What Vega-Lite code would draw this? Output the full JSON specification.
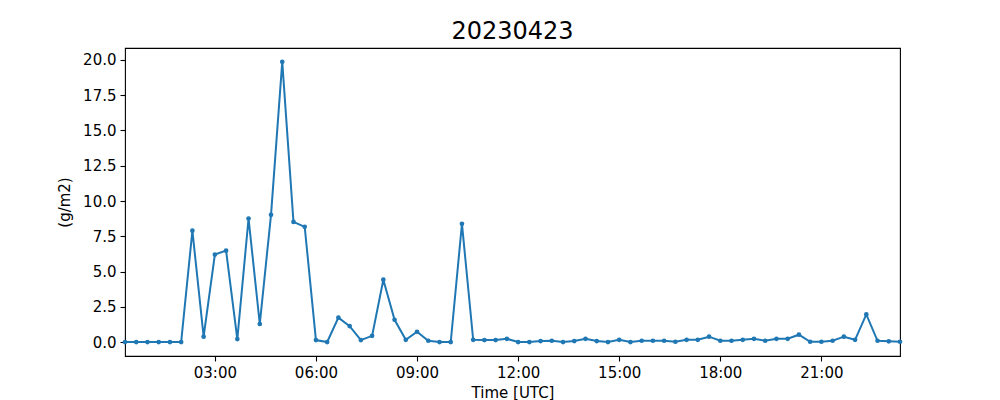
{
  "$schema": "https://vega.github.io/schema/vega-lite/v6.json",
  "autosize": {"type": "none"},
  "width": 775,
  "height": 308,
  "padding": {"left": 125, "top": 48, "right": 100, "bottom": 44},
  "background": "white",
  "title": {"text": "20230423", "fontSize": 24, "font": "DejaVu Sans", "fontWeight": "normal", "color": "black", "offset": 4},
  "config": {
    "view": {"stroke": "black", "strokeWidth": 1.1},
    "axis": {"labelFont": "DejaVu Sans", "titleFont": "DejaVu Sans", "labelFontSize": 15, "titleFontSize": 15, "titleFontWeight": "normal", "labelColor": "black", "titleColor": "black", "tickColor": "black", "domain": false, "grid": false, "tickSize": 5, "tickWidth": 1.1, "labelPadding": 4}
  },
  "data": {"values": [
    {"t": "2023-04-23T00:20:00Z", "v": 0.0},
    {"t": "2023-04-23T00:40:00Z", "v": 0.0},
    {"t": "2023-04-23T01:00:00Z", "v": 0.0},
    {"t": "2023-04-23T01:20:00Z", "v": 0.0},
    {"t": "2023-04-23T01:40:00Z", "v": 0.0},
    {"t": "2023-04-23T02:00:00Z", "v": 0.0},
    {"t": "2023-04-23T02:20:00Z", "v": 7.9},
    {"t": "2023-04-23T02:40:00Z", "v": 0.38},
    {"t": "2023-04-23T03:00:00Z", "v": 6.2},
    {"t": "2023-04-23T03:20:00Z", "v": 6.48},
    {"t": "2023-04-23T03:40:00Z", "v": 0.21},
    {"t": "2023-04-23T04:00:00Z", "v": 8.76},
    {"t": "2023-04-23T04:20:00Z", "v": 1.28},
    {"t": "2023-04-23T04:40:00Z", "v": 9.02},
    {"t": "2023-04-23T05:00:00Z", "v": 19.87},
    {"t": "2023-04-23T05:20:00Z", "v": 8.52},
    {"t": "2023-04-23T05:40:00Z", "v": 8.17},
    {"t": "2023-04-23T06:00:00Z", "v": 0.14},
    {"t": "2023-04-23T06:20:00Z", "v": 0.0},
    {"t": "2023-04-23T06:40:00Z", "v": 1.73},
    {"t": "2023-04-23T07:00:00Z", "v": 1.13},
    {"t": "2023-04-23T07:20:00Z", "v": 0.14},
    {"t": "2023-04-23T07:40:00Z", "v": 0.44},
    {"t": "2023-04-23T08:00:00Z", "v": 4.42},
    {"t": "2023-04-23T08:20:00Z", "v": 1.58},
    {"t": "2023-04-23T08:40:00Z", "v": 0.16},
    {"t": "2023-04-23T09:00:00Z", "v": 0.73},
    {"t": "2023-04-23T09:20:00Z", "v": 0.09},
    {"t": "2023-04-23T09:40:00Z", "v": 0.0},
    {"t": "2023-04-23T10:00:00Z", "v": 0.0},
    {"t": "2023-04-23T10:20:00Z", "v": 8.38},
    {"t": "2023-04-23T10:40:00Z", "v": 0.16},
    {"t": "2023-04-23T11:00:00Z", "v": 0.14},
    {"t": "2023-04-23T11:20:00Z", "v": 0.14},
    {"t": "2023-04-23T11:40:00Z", "v": 0.23},
    {"t": "2023-04-23T12:00:00Z", "v": 0.0},
    {"t": "2023-04-23T12:20:00Z", "v": 0.0},
    {"t": "2023-04-23T12:40:00Z", "v": 0.07},
    {"t": "2023-04-23T13:00:00Z", "v": 0.09},
    {"t": "2023-04-23T13:20:00Z", "v": 0.0},
    {"t": "2023-04-23T13:40:00Z", "v": 0.07},
    {"t": "2023-04-23T14:00:00Z", "v": 0.23},
    {"t": "2023-04-23T14:20:00Z", "v": 0.07},
    {"t": "2023-04-23T14:40:00Z", "v": 0.0},
    {"t": "2023-04-23T15:00:00Z", "v": 0.16},
    {"t": "2023-04-23T15:20:00Z", "v": 0.0},
    {"t": "2023-04-23T15:40:00Z", "v": 0.09},
    {"t": "2023-04-23T16:00:00Z", "v": 0.09},
    {"t": "2023-04-23T16:20:00Z", "v": 0.09},
    {"t": "2023-04-23T16:40:00Z", "v": 0.02},
    {"t": "2023-04-23T17:00:00Z", "v": 0.16},
    {"t": "2023-04-23T17:20:00Z", "v": 0.16},
    {"t": "2023-04-23T17:40:00Z", "v": 0.38},
    {"t": "2023-04-23T18:00:00Z", "v": 0.09},
    {"t": "2023-04-23T18:20:00Z", "v": 0.09},
    {"t": "2023-04-23T18:40:00Z", "v": 0.16},
    {"t": "2023-04-23T19:00:00Z", "v": 0.23},
    {"t": "2023-04-23T19:20:00Z", "v": 0.09},
    {"t": "2023-04-23T19:40:00Z", "v": 0.23},
    {"t": "2023-04-23T20:00:00Z", "v": 0.23},
    {"t": "2023-04-23T20:20:00Z", "v": 0.52},
    {"t": "2023-04-23T20:40:00Z", "v": 0.02},
    {"t": "2023-04-23T21:00:00Z", "v": 0.02},
    {"t": "2023-04-23T21:20:00Z", "v": 0.09},
    {"t": "2023-04-23T21:40:00Z", "v": 0.38},
    {"t": "2023-04-23T22:00:00Z", "v": 0.16},
    {"t": "2023-04-23T22:20:00Z", "v": 1.96},
    {"t": "2023-04-23T22:40:00Z", "v": 0.09},
    {"t": "2023-04-23T23:00:00Z", "v": 0.05},
    {"t": "2023-04-23T23:20:00Z", "v": 0.02}
  ]},
  "encoding": {
    "x": {
      "field": "t", "type": "temporal",
      "scale": {"type": "utc", "domain": [
        {"year": 2023, "month": 4, "date": 23, "hours": 0, "minutes": 20, "utc": true},
        {"year": 2023, "month": 4, "date": 23, "hours": 23, "minutes": 20, "utc": true}
      ], "nice": false},
      "axis": {
        "title": "Time [UTC]", "format": "%H:%M", "titlePadding": 5,
        "values": [
          {"year": 2023, "month": 4, "date": 23, "hours": 3, "utc": true},
          {"year": 2023, "month": 4, "date": 23, "hours": 6, "utc": true},
          {"year": 2023, "month": 4, "date": 23, "hours": 9, "utc": true},
          {"year": 2023, "month": 4, "date": 23, "hours": 12, "utc": true},
          {"year": 2023, "month": 4, "date": 23, "hours": 15, "utc": true},
          {"year": 2023, "month": 4, "date": 23, "hours": 18, "utc": true},
          {"year": 2023, "month": 4, "date": 23, "hours": 21, "utc": true}
        ]
      }
    },
    "y": {
      "field": "v", "type": "quantitative",
      "scale": {"domain": [-0.99, 20.85], "nice": false, "zero": false},
      "axis": {"title": "(g/m2)", "values": [0, 2.5, 5, 7.5, 10, 12.5, 15, 17.5, 20], "format": ".1f", "titlePadding": 10}
    }
  },
  "layer": [
    {"mark": {"type": "line", "color": "#1f77b4", "strokeWidth": 2}},
    {"mark": {"type": "point", "filled": true, "color": "#1f77b4", "size": 22, "opacity": 1}}
  ]
}
